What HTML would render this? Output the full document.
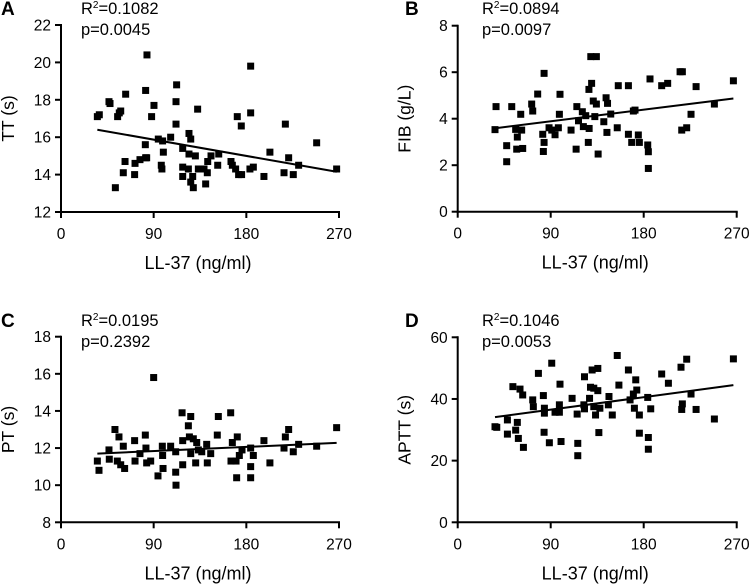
<!DOCTYPE html>
<html><head><meta charset="utf-8">
<style>
body{margin:0;background:#fff;}
svg{display:block;font-family:"Liberation Sans",Arial,sans-serif;}
</style></head>
<body>
<svg id="chart" width="749" height="584" viewBox="0 0 749 584" xmlns="http://www.w3.org/2000/svg"></svg>
<script>
// ---- Data (LL-37 ng/ml vs coagulation parameters) ----
const xTicks = [0, 90, 180, 270];
const aTicks = [12, 14, 16, 18, 20, 22];
const bTicks = [0, 2, 4, 6, 8];
const cTicks = [8, 10, 12, 14, 16, 18];
const dTicks = [0, 20, 40, 60];

const aX = [35.3,37.2,46.6,47.6,55,56.6,58,52.8,60.5,62.2,62.8,71.5,71.9,76.7,82.2,81.9,83.2,82.2,83.5,88,90.3,94.5,98.7,97.4,98,99.4,106.5,111.7,112.3,111.7,118.2,118.2,118.2,123.7,124.3,126,124.3,126,127.9,128.5,130.5,132.7,133.4,138.9,140.5,142.1,142.5,145.7,152.2,153.2,165.1,166.4,169.6,171.2,172.5,175.1,175.4,184.2,184.2,183.5,186.8,197.1,202.9,216.6,217.9,221.1,225.6,230.8,248.3,267.7];
const aY = [17.1,17.2,17.9,17.8,17.1,17.3,17.4,13.3,14.1,14.7,18.3,14.0,14.6,14.8,14.9,15.6,14.9,18.5,20.4,17.1,17.7,15.9,15.8,14.5,14.3,15.2,16.0,17.9,18.8,16.7,15.4,14.4,13.9,14.3,16.2,15.9,15.1,13.6,13.9,13.3,15.0,17.5,14.3,14.3,13.5,14.1,14.7,15.0,14.5,15.1,14.7,14.5,14.3,17.1,14.0,16.6,14.0,19.8,17.3,14.3,14.4,13.9,15.2,14.1,16.7,14.9,14.0,14.5,15.7,14.3];
const aFit = [[35.3,16.4],[267.7,14.15]];

const bX = [36.1,37.1,47.4,47.4,52.3,56.1,57.7,57.1,61,61.9,62.9,71.6,72.6,77.4,82.3,83.6,83.6,82.9,88.4,91,94.2,97.4,98.4,99,109.7,115.3,114.6,116.9,120.6,121.6,123.9,126.4,127,129.6,127.2,128.8,134.2,131.2,134.2,132.7,135.9,141.4,143.6,145,144.4,148.1,154.4,155.4,165.2,165.2,168.4,170,171.6,174.8,175.8,183.9,184.5,184.5,186.1,197.4,203.2,215.2,217.4,216.8,221.6,225.8,230.7,248.4,266.8];
const bY = [3.53,4.52,2.84,2.15,4.52,3.54,3.21,2.69,4.19,3.51,2.72,4.63,4.33,5.06,3.33,5.95,2.98,2.59,3.61,3.51,3.31,3.61,4.19,5.05,3.51,4.52,2.69,3.91,4.30,3.66,4.13,2.98,5.26,5.52,3.58,6.67,6.67,4.76,4.63,4.09,2.48,3.87,4.9,4.66,3.41,4.2,3.61,5.42,5.42,3.33,2.98,4.33,4.37,3.30,2.98,2.87,2.58,1.86,5.71,5.42,5.52,6.02,6.02,3.51,3.61,4.19,5.38,4.63,5.63];
const bFit = [[34.5,3.58],[266.8,4.87]];

const cX = [35.3,36.9,46.6,46.9,52.4,56.3,54.7,58,60.5,61.8,71.5,71.9,76.7,81.9,82.5,83.2,87.1,90,94.2,98.4,98.7,99.1,106.5,111.4,111.7,111.4,117.6,118.2,118.2,123.7,126,124.7,126,128.5,130.8,131.8,133.4,136.7,141.5,142.1,145.4,151.8,152.8,164.8,166.4,165.1,170,171.2,170.6,173.2,175.8,184.2,184.2,184.2,186.8,197.1,202.9,216.6,217.9,221.1,225.6,230.8,248.3,267.7];
const cY = [11.3,10.8,11.9,11.4,13.0,12.6,11.3,11.1,12.1,10.9,12.4,11.3,11.7,12.7,12.0,11.2,11.3,15.8,10.5,12.1,11.6,10.9,12.1,10.7,10.0,11.8,13.9,11.1,12.4,13.2,13.7,12.6,11.7,12.5,11.2,12.3,11.9,11.8,12.2,11.2,11.7,12.7,13.7,13.9,12.3,11.3,11.3,12.6,10.4,11.6,11.9,12.0,11.0,10.4,11.6,12.4,11.2,12.0,12.6,13.0,11.8,12.2,12.1,13.1];
const cFit = [[35.3,11.7],[267.7,12.28]];

const dX = [36.1,37.8,48.1,48.1,53.4,56.1,57.7,58.7,60.3,62.9,63.6,72.6,73.2,78.1,82.9,83.9,83.9,83.6,88.7,91,94.2,98.4,99,98.4,100,110.7,115.6,116.2,116.2,122.7,122.1,122.7,127.6,128.5,130.1,131.7,131.7,133.4,135.6,135.6,136.6,137.6,146.4,145.8,149.6,154.4,156,165.2,166.8,170,172.3,173.3,171,175.8,175.8,183.9,184.5,184.5,186.8,197.4,203.9,216.1,221.6,217.4,216.8,225.8,230.7,248.4,266.8];
const dY = [31.0,30.8,33.2,28.6,44.0,29.9,32.4,27.2,43.2,41.3,24.3,39.7,37.5,48.3,41.1,37.0,35.4,29.2,25.8,51.6,35.7,38.1,44.8,35.7,26.2,40.2,35.1,25.6,21.6,47.2,38.1,36.8,40.2,43.8,49.4,43.5,37.5,34.8,49.9,42.7,29.1,37.0,40.8,38.1,34.8,54.1,44.5,49.4,39.7,41.6,46.2,42.9,37.0,34.8,28.9,40.5,27.5,23.7,36.8,48.1,45.1,50.3,52.9,38.4,36.6,41.6,36.6,33.5,53.0];
const dFit = [[36.1,34.1],[266.8,44.5]];

// ---- Layout ----
const NS = "http://www.w3.org/2000/svg";
const svg = document.getElementById('chart');
function mk(tag, attrs, parent, text){
  const e = document.createElementNS(NS, tag);
  for (const k in attrs) e.setAttribute(k, attrs[k]);
  if (text !== undefined) e.textContent = text;
  (parent||svg).appendChild(e);
  return e;
}
const panels = [
  {id:'a', letter:'A', xs:aX, ys:aY, fit:aFit, yTicks:aTicks, ymin:12, ymax:22, ylabel:'TT (s)', r2:'0.1082', p:'0.0045',
   x0:61, x1:339, yTop:25, yBot:212, lx:1, ly:15, tx:81},
  {id:'b', letter:'B', xs:bX, ys:bY, fit:bFit, yTicks:bTicks, ymin:0, ymax:8, ylabel:'FIB (g/L)', r2:'0.0894', p:'0.0097',
   x0:457.7, x1:736.7, yTop:25.7, yBot:211.7, lx:405, ly:15, tx:482},
  {id:'c', letter:'C', xs:cX, ys:cY, fit:cFit, yTicks:cTicks, ymin:8, ymax:18, ylabel:'PT (s)', r2:'0.0195', p:'0.2392',
   x0:61, x1:339, yTop:336.7, yBot:522.3, lx:1, ly:327, tx:81},
  {id:'d', letter:'D', xs:dX, ys:dY, fit:dFit, yTicks:dTicks, ymin:0, ymax:60, ylabel:'APTT (s)', r2:'0.1046', p:'0.0053',
   x0:457.7, x1:736.7, yTop:337.3, yBot:522.3, lx:405, ly:327, tx:482}
];

panels.forEach(P => {
  const g = mk('g', {});
  
  
  const sx = v => P.x0 + (v - 0) / 270 * (P.x1 - P.x0);
  const sy = v => P.yBot - (v - P.ymin) / (P.ymax - P.ymin) * (P.yBot - P.yTop);

  const L = mk('text', {x:P.lx, y:P.ly, 'font-size':19, 'font-weight':'bold', fill:'#000'}, g, P.letter);
  
  

  const r = mk('text', {x:P.tx, y:P.ly - 1, 'font-size':16.5, fill:'#000'}, g);
  
  
  mk('tspan', {}, r, 'R');
  mk('tspan', {'font-size':10, dy:-6}, r, '2');
  mk('tspan', {dy:6}, r, '=' + P.r2);
  const pt = mk('text', {x:P.tx, y:P.ly + 20, 'font-size':16.5, fill:'#000'}, g, 'p=' + P.p);
  
  

  // axes
  const ax = mk('g', {stroke:'#000', 'stroke-width':2, fill:'none'}, g);
  
  
  mk('line', {x1:P.x0, y1:P.yTop - 1, x2:P.x0, y2:P.yBot + 1}, ax);
  mk('line', {x1:P.x0 - 1, y1:P.yBot, x2:P.x1 + 1, y2:P.yBot}, ax);

  P.yTicks.forEach(t => {
    const y = sy(t);
    mk('line', {x1:P.x0 - 6, y1:y, x2:P.x0, y2:y}, ax);
    const tl = mk('text', {x:P.x0 - 10, y:y + 5.5, 'font-size':15.5, 'text-anchor':'end', fill:'#000'}, g, t);
    
    
  });
  xTicks.forEach(t => {
    const x = sx(t);
    mk('line', {x1:x, y1:P.yBot, x2:x, y2:P.yBot + 6}, ax);
    const tl = mk('text', {x:x, y:P.yBot + 27, 'font-size':15.5, 'text-anchor':'middle', fill:'#000'}, g, t);
    
    
  });

  const cy = (P.yTop + P.yBot) / 2;
  const yt = mk('text', {x:0, y:0, 'font-size':17.5, 'text-anchor':'middle', fill:'#000',
    transform:'translate(' + (P.x0 - 47) + ',' + cy + ') rotate(-90)'}, g, P.ylabel);
  
  
  const xt = mk('text', {x:(P.x0 + P.x1) / 2 - 2, y:P.yBot + 57, 'font-size':18, 'text-anchor':'middle', fill:'#000'}, g, 'LL-37 (ng/ml)');
  
  

  // points
  const pts = mk('g', {fill:'#000'}, g);
  
  
  P.xs.forEach((xv, i) => {
    const s = mk('rect', {x:sx(xv) - 3.5, y:sy(P.ys[i]) - 3.5, width:7, height:7}, pts);
    
    
  });

  const fl = mk('line', {x1:sx(P.fit[0][0]), y1:sy(P.fit[0][1]), x2:sx(P.fit[1][0]), y2:sy(P.fit[1][1]), stroke:'#000', 'stroke-width':2}, g);
  
  
});
</script>
</body></html>
